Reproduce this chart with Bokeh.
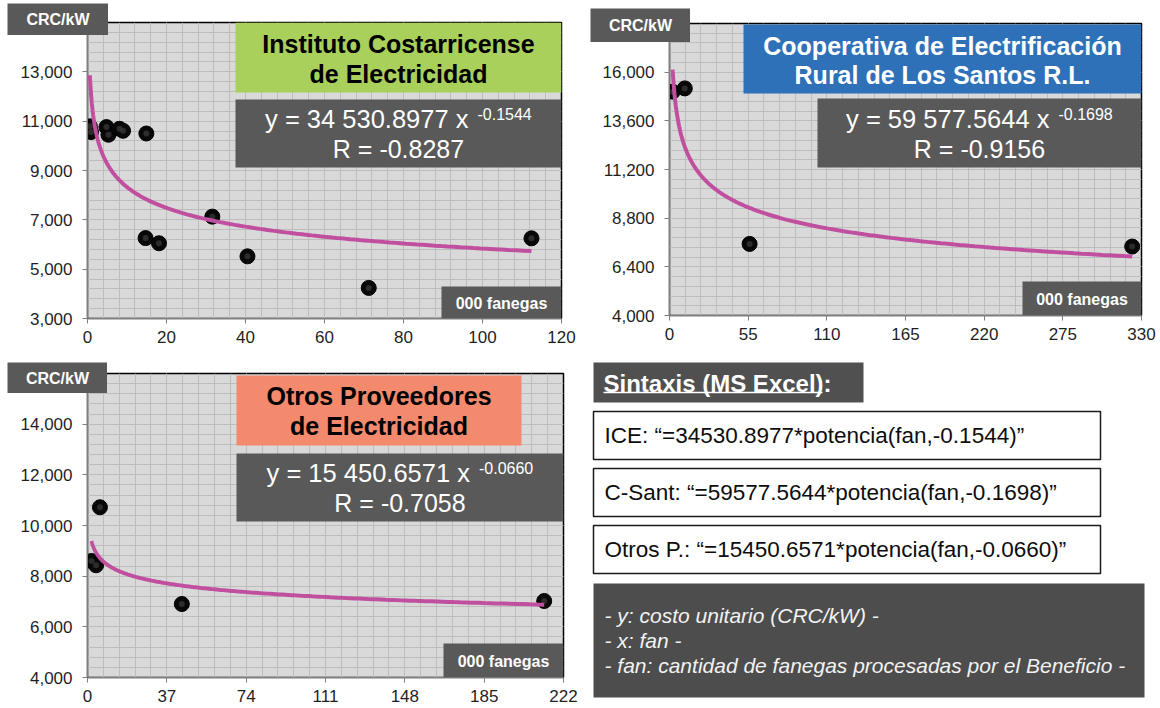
import numpy as np
from bokeh.plotting import figure
from bokeh.models import Range1d, FixedTicker, NumeralTickFormatter, BoxAnnotation, Label, GridBox
from bokeh.layouts import row, column
from bokeh.embed import file_html
from bokeh.resources import INLINE
from bokeh.core.properties import value

FONT = "Liberation Sans"

# ---------------- data ----------------
# x: thousands of fanegas, y: CRC/kW
ice_fan = [0.6, 0.9, 4.8, 5.3, 8.1, 9.0, 14.9, 14.7, 18.1, 31.6, 40.5, 71.2, 112.4]
ice_cost = [10790, 10560, 10760, 10450, 10690, 10610, 10500, 6260, 6050, 7130, 5520, 4240, 6250]
sant_fan = [2.2, 10.7, 56.0, 323.5]
sant_cost = [15040, 15200, 7530, 7400]
otros_fan = [1.9, 4.0, 5.8, 44.0, 213.0]
otros_cost = [8600, 8430, 10720, 6900, 7020]

# power trend lines shown in the chart: y = a * fan^b  (fan in fanegas)
ice_a, ice_b, ice_r = 34530.8977, -0.1544, -0.8287
sant_a, sant_b, sant_r = 59577.5644, -0.1698, -0.9156
otros_a, otros_b, otros_r = 15450.6571, -0.0660, -0.7058
FANEGAS_PER_UNIT = 1000

ice_title = ["Instituto Costarricense", "de Electricidad"]
sant_title = ["Cooperativa de Electrificación", "Rural de Los Santos R.L."]
otros_title = ["Otros Proveedores", "de Electricidad"]

ice_xticks = [0, 20, 40, 60, 80, 100, 120]
ice_yticks = [3000, 5000, 7000, 9000, 11000, 13000]
sant_xticks = [0, 55, 110, 165, 220, 275, 330]
sant_yticks = [4000, 6400, 8800, 11200, 13600, 16000]
otros_xticks = [0, 37, 74, 111, 148, 185, 222]
otros_yticks = [4000, 6000, 8000, 10000, 12000, 14000]

y_unit = "CRC/kW"
x_unit = "000 fanegas"
syntax_title = "Sintaxis (MS Excel):"
syntax_names = ["ICE", "C-Sant", "Otros P."]
notes = ["- y: costo unitario (CRC/kW) -",
         "- x: fan -",
         "- fan: cantidad de fanegas procesadas por el Beneficio -"]

DARK = "#595959"
GRID = "#bdbdbd"
CURVE = "#c0509f"


def eq_text(a):
    return "y = " + f"{a:,.4f}".replace(",", " ") + " x"


def make_chart(fan, cost, a, b, r, title, tcolor, ttext, xticks, yticks,
               xmax, ymin, ymax, xminor, yminor, g):
    ox, oy = g["origin"]
    L, T, R, B = g["frame"]
    W, H = g["size"]

    def X(px):
        return (px - L) / (R - L) * xmax

    def Y(py):
        return ymin + (B - py) / (B - T) * (ymax - ymin)

    p = figure(width=W, height=H, x_range=Range1d(0, xmax), y_range=Range1d(ymin, ymax),
               output_backend="svg", toolbar_location=None,
               min_border_left=L - ox, min_border_right=ox + W - R,
               min_border_top=T - oy, min_border_bottom=oy + H - B)
    p.background_fill_color = "#d9d9d9"
    p.border_fill_color = "white"
    p.outline_line_color = "#000000"
    p.outline_line_width = 1.5

    xminor_ticks = [round(i * xminor, 3) for i in range(int(round(xmax / xminor)) + 1)]
    yminor_ticks = [ymin + i * yminor for i in range(int(round((ymax - ymin) / yminor)) + 1)]
    p.xaxis.ticker = FixedTicker(ticks=xticks, minor_ticks=xminor_ticks)
    p.yaxis.ticker = FixedTicker(ticks=yticks, minor_ticks=yminor_ticks)
    p.yaxis.formatter = NumeralTickFormatter(format="0,0")
    for grid in (p.xgrid, p.ygrid):
        grid.grid_line_color = GRID
        grid.minor_grid_line_color = GRID
        grid.grid_line_width = 1
        grid.minor_grid_line_width = 1
    for ax in (p.xaxis, p.yaxis):
        ax.major_label_text_font = FONT
        ax.major_label_text_font_size = "17px"
        ax.major_label_text_color = "#1f1f1f"
        ax.axis_line_color = "#7f7f7f"
        ax.major_tick_line_color = "#7f7f7f"
        ax.major_tick_in = 0
        ax.major_tick_out = 5
        ax.minor_tick_line_color = None
    p.xaxis.major_label_standoff = 7
    p.yaxis.major_label_standoff = 10

    # points
    p.scatter(fan, cost, size=15, fill_color="#080808", line_color="#000000")
    p.scatter(fan, cost, size=6, fill_color="#3c3c3c", line_color=None, fill_alpha=0.7)
    # trend line
    xs = np.geomspace(min(fan), max(fan), 300)
    ys = a * (xs * FANEGAS_PER_UNIT) ** b
    p.line(xs, ys, line_color=CURVE, line_width=4)

    def box(rect, color):
        l, t, rr, bb = rect
        p.add_layout(BoxAnnotation(left=X(l), right=X(rr), top=Y(t), bottom=Y(bb),
                                   fill_color=color, fill_alpha=1, line_color=None))

    def lab(px, py, text, size, color, style="normal", align="center"):
        p.add_layout(Label(x=X(px), y=Y(py), text=text, text_align=align, text_baseline="middle",
                           text_font=FONT, text_font_size=size, text_font_style=style,
                           text_color=color))

    # title box
    box(g["title_box"], tcolor)
    for line, ty in zip(title, g["title_y"]):
        lab(g["title_cx"], ty, line, "25px", ttext, "bold")
    # equation box
    box(g["eq_box"], DARK)
    cx = g["eq_cx"]
    y1, y2 = g["eq_y"]
    lab(cx + 70, y1, eq_text(a), "25.5px", "white", align="right")
    lab(cx + 79, y1 - 5, f"{b:.4f}", "16px", "white", align="left")
    lab(cx, y2, f"R = {r:.4f}", "25px", "white")
    # x unit box
    box(g["fan_box"], DARK)
    fb = g["fan_box"]
    lab((fb[0] + fb[2]) / 2, (fb[1] + fb[3]) / 2 + 1, x_unit, "16px", "white", "bold")
    return p


def unit_box(w, h):
    c = figure(width=w, height=h, x_range=Range1d(0, 1), y_range=Range1d(0, 1),
               output_backend="svg", toolbar_location=None, x_axis_type=None, y_axis_type=None,
               min_border=0, align="start")
    c.background_fill_color = DARK
    c.border_fill_color = DARK
    c.outline_line_color = None
    c.text(x=[0.5], y=[0.5], text=[y_unit], text_align="center", text_baseline="middle",
           text_font=value(FONT), text_font_size="16px", text_font_style="bold", text_color="white")
    return c


def overlay(p, c, margin):
    # chart with its y-unit tag lying across the frame corner
    return GridBox(children=[(column(p), 0, 0),
                             (column(c, margin=margin, align="start"), 0, 0)], spacing=0)


g1 = dict(origin=(0, 0), size=(584, 352), frame=(87, 22, 561, 318),
          title_box=(235, 22, 561, 92), title_y=(43, 73), title_cx=398,
          eq_box=(235, 99, 561, 167), eq_y=(118, 148), eq_cx=398,
          fan_box=(441, 286, 561, 318))
g2 = dict(origin=(584, 0), size=(576, 352), frame=(669, 23, 1141, 315),
          title_box=(743, 24, 1141, 93), title_y=(45, 74), title_cx=942,
          eq_box=(817, 98, 1141, 167), eq_y=(118, 148), eq_cx=979,
          fan_box=(1022, 281, 1141, 315))
g3 = dict(origin=(0, 352), size=(584, 356), frame=(87, 373, 563, 677),
          title_box=(236, 375, 521, 445), title_y=(395, 425), title_cx=378.5,
          eq_box=(236, 453, 563, 521), eq_y=(472, 502), eq_cx=399.5,
          fan_box=(443, 643, 563, 677))

p1 = make_chart(ice_fan, ice_cost, ice_a, ice_b, ice_r, ice_title, "#a9d05b", "#000000",
                ice_xticks, ice_yticks, 120, 3000, 15000, 4, 400, g1)
p2 = make_chart(sant_fan, sant_cost, sant_a, sant_b, sant_r, sant_title, "#2e71b8", "#ffffff",
                sant_xticks, sant_yticks, 330, 4000, 18400, 11, 480, g2)
p3 = make_chart(otros_fan, otros_cost, otros_a, otros_b, otros_r, otros_title, "#f3896d", "#000000",
                otros_xticks, otros_yticks, 222, 4000, 16000, 7.4, 400, g3)

cell1 = overlay(p1, unit_box(101, 32), (3, 0, 0, 7))
cell2 = overlay(p2, unit_box(100, 34), (8, 0, 0, 6))
cell3 = overlay(p3, unit_box(100, 31), (10, 0, 0, 7))

# ---------------- text panel ----------------
p4 = figure(width=576, height=356, x_range=Range1d(0, 576), y_range=Range1d(356, 0),
            output_backend="svg", toolbar_location=None, x_axis_type=None, y_axis_type=None,
            min_border=0)
p4.outline_line_color = None
p4.background_fill_color = "white"
p4.border_fill_color = "white"

p4.quad(left=[9], right=[279], top=[10], bottom=[50], fill_color="#505050", line_color=None)
p4.text(x=[19], y=[31], text=[syntax_title], text_font=value(FONT), text_font_size="24px",
        text_font_style="bold", text_color="white", text_baseline="middle", text_align="left")
p4.segment(x0=[19], y0=[40], x1=[238], y1=[40], line_color="white", line_width=1.5)

coefs = [(ice_a, ice_b), (sant_a, sant_b), (otros_a, otros_b)]
syntax_lines = [f"{n}: \u201c={a:.4f}*potencia(fan,{b:.4f})\u201d" for n, (a, b) in zip(syntax_names, coefs)]
box_tops = [59, 116, 173]
p4.quad(left=[9] * 3, right=[516] * 3, top=box_tops, bottom=[t + 48 for t in box_tops],
        fill_color="white", line_color="#1a1a1a", line_width=1.5)
p4.text(x=[20] * 3, y=[t + 24 for t in box_tops], text=syntax_lines, text_font=value(FONT),
        text_font_size="22.5px", text_color="#0d0d0d", text_baseline="middle", text_align="left")

p4.quad(left=[9], right=[560], top=[231], bottom=[345], fill_color="#4d4d4d", line_color=None)
p4.text(x=[20] * 3, y=[263, 288, 313], text=notes, text_font=value(FONT), text_font_size="21px",
        text_font_style="italic", text_color="#f2f2f2", text_baseline="middle", text_align="left")

layout = column(row(cell1, cell2), row(cell3, p4))
open("out.html", "w").write(file_html(layout, INLINE, title="Costo unitario"))
